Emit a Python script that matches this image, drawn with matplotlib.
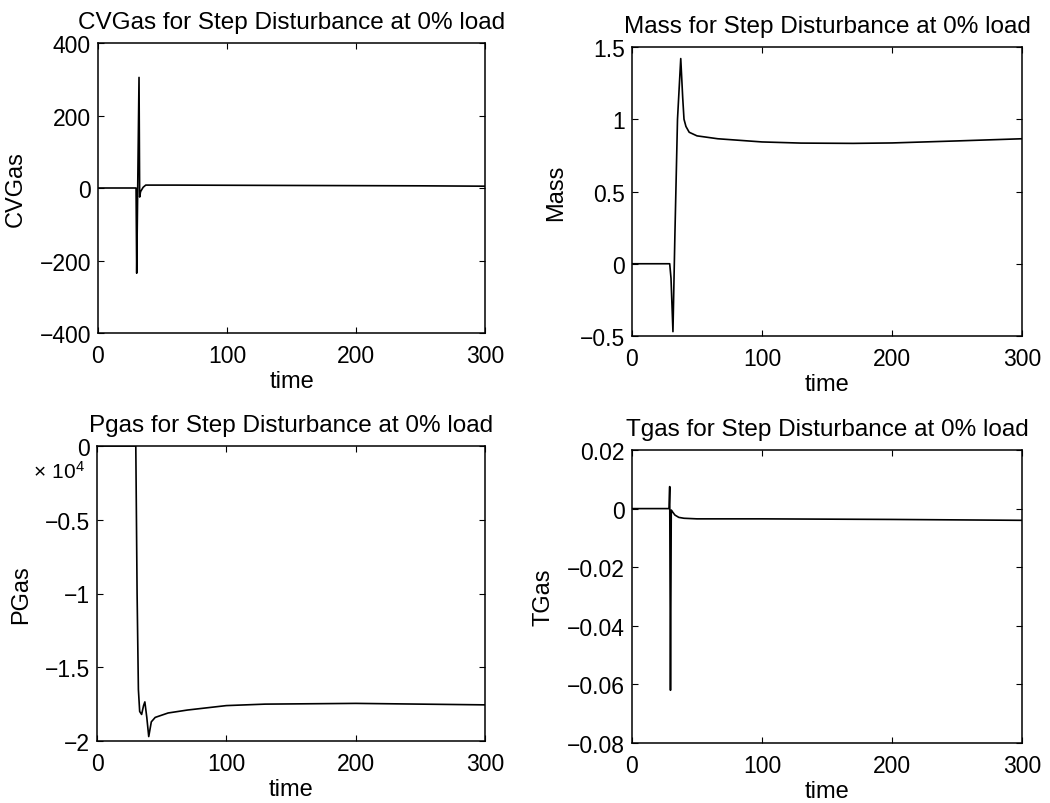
import matplotlib
matplotlib.use("Agg")
import matplotlib.pyplot as plt
from matplotlib.ticker import FuncFormatter

plt.rcParams['font.family'] = ['Liberation Sans', 'DejaVu Sans']
plt.rcParams['axes.unicode_minus'] = True

# CVGas
t_cv = [0, 29.5, 30, 31.8, 32.3, 33, 35, 37, 60, 150, 250, 300]
cv = [0, 0, -235, 305, -25, -10, 2, 8, 8, 7, 6, 5]

# Mass
t_mass = [0, 29, 30, 31.5, 33, 35, 37.5, 39, 40, 41.5, 44, 50, 66, 100, 130, 170, 200, 250, 300]
mass = [0, 0, -0.1, -0.47, 0.2, 1.0, 1.42, 1.15, 1.0, 0.95, 0.91, 0.885, 0.865, 0.843, 0.835,
        0.833, 0.836, 0.85, 0.865]

# PGas
t_p = [0, 30, 31, 32, 33, 34.5, 36, 37, 38.5, 40, 42, 45, 55, 70, 100, 130, 200, 250, 300]
pgas = [0, 0, -10000, -16500, -18000, -18200, -17600, -17350, -18400, -19700, -18700, -18400,
        -18100, -17900, -17600, -17500, -17450, -17500, -17550]

# TGas
t_t = [0, 28.5, 29, 29.6, 30.2, 31, 33, 36, 40, 50, 100, 200, 300]
tgas = [0, 0, 0.0075, -0.062, -0.0005, -0.001, -0.0022, -0.003, -0.0033, -0.0035, -0.0035, -0.0037, -0.004]

fig = plt.figure(figsize=(10.5, 8.04), dpi=100)
W, H = 1050, 804
TICK = 16.5
LAB = 17
TITLE = 17.5


def fmt(v):
    s = '%g' % v
    return s.replace('-', '\u2212')


def make_axes(left, top, right, bottom):
    ax = fig.add_axes([left / W, 1 - bottom / H, (right - left) / W, (bottom - top) / H])
    ax.tick_params(direction='in', top=True, right=True, labelsize=TICK, length=4, width=0.8)
    ax.tick_params(axis='x', pad=8)
    ax.tick_params(axis='y', pad=5)
    for s in ax.spines.values():
        s.set_linewidth(1.1)
    ax.set_xlim(0, 300)
    ax.set_xticks([0, 100, 200, 300])
    ax.set_xlabel('time', fontsize=LAB, labelpad=2)
    return ax


ax1 = make_axes(98, 44, 485, 334)
ax1.plot(t_cv, cv, color='black', lw=1.2)
ax1.set_ylim(-400, 400)
ax1.set_yticks([-400, -200, 0, 200, 400])
ax1.yaxis.set_major_formatter(FuncFormatter(lambda v, p: fmt(v)))
ax1.set_ylabel('CVGas', fontsize=LAB, labelpad=9)
ax1.set_title('CVGas for Step Disturbance at 0% load', fontsize=TITLE, pad=11)

ax2 = make_axes(632, 48, 1022, 337)
ax2.plot(t_mass, mass, color='black', lw=1.2)
ax2.set_ylim(-0.5, 1.5)
ax2.set_yticks([-0.5, 0, 0.5, 1, 1.5])
ax2.yaxis.set_major_formatter(FuncFormatter(lambda v, p: fmt(v)))
ax2.set_ylabel('Mass', fontsize=LAB, labelpad=9)
ax2.set_title('Mass for Step Disturbance at 0% load', fontsize=TITLE, pad=11)

ax3 = make_axes(97, 447, 485, 742)
ax3.plot(t_p, pgas, color='black', lw=1.2)
ax3.set_ylim(-20000, 0)
ax3.set_yticks([-20000, -15000, -10000, -5000, 0])
ax3.yaxis.set_major_formatter(FuncFormatter(lambda v, p: fmt(v / 1e4)))
ax3.set_ylabel('PGas', fontsize=LAB, labelpad=9)
ax3.set_title('Pgas for Step Disturbance at 0% load', fontsize=TITLE, pad=11)
ax3.text(-0.031, 0.915, r'$\mathregular{\times\ 10^{4}}$', transform=ax3.transAxes,
         ha='right', va='center', fontsize=15)

ax4 = make_axes(632, 451, 1022, 744)
ax4.plot(t_t, tgas, color='black', lw=1.2)
ax4.set_ylim(-0.08, 0.02)
ax4.set_yticks([-0.08, -0.06, -0.04, -0.02, 0, 0.02])
ax4.yaxis.set_major_formatter(FuncFormatter(
    lambda v, p: '0' if abs(v) < 1e-9 else ('%.2f' % v).replace('-', '\u2212')))
ax4.set_ylabel('TGas', fontsize=LAB, labelpad=9)
ax4.set_title('Tgas for Step Disturbance at 0% load', fontsize=TITLE, pad=11)

fig.savefig('out.png', dpi=100)
